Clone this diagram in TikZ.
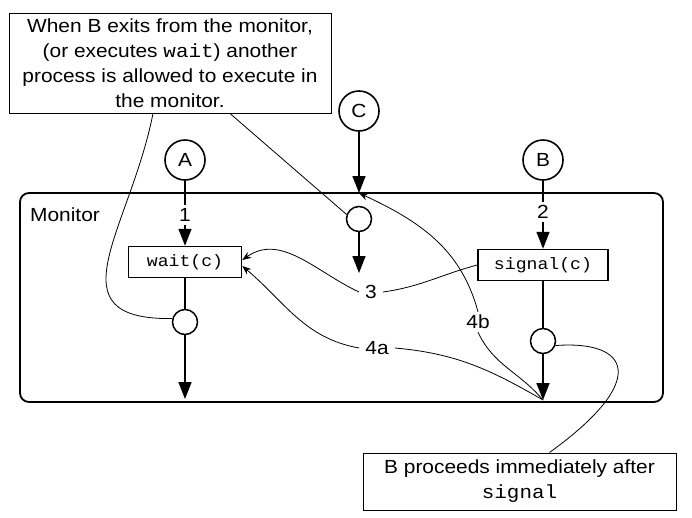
\documentclass[tikz,border=0pt]{standalone}
\usepackage{fontspec}
\setmainfont{Liberation Sans}[FakeStretch=1.1]
\setmonofont{Liberation Mono}[FakeStretch=1.1]
\usetikzlibrary{arrows.meta}
\begin{document}
\begin{tikzpicture}[x=1pt,y=1pt,
  every node/.style={font=\fontsize{19}{25}\selectfont},
  proc/.style={circle,draw,line width=1.6pt,minimum size=40pt,inner sep=0pt},
  joint/.style={circle,draw,line width=1.5pt,minimum size=25pt,inner sep=0pt},
  opbox/.style={draw,line width=1.5pt,minimum height=31pt,inner sep=0pt,font=\ttfamily\fontsize{16.5}{20}\selectfont},
  note/.style={draw,line width=1pt,align=center,inner sep=0pt},
  flow/.style={line width=1.6pt},
  bigarrow/.style={flow,-{Triangle[length=17pt,width=13pt]}},
  thinline/.style={line width=0.8pt},
  thinarrow/.style={thinline,-{Stealth[length=9pt,width=7pt]}},
  lab/.style={inner xsep=6pt,inner ysep=3pt}
]
\path[use as bounding box] (0,0) rectangle (692,-517);

% notes
\node[note,minimum width=322pt,minimum height=100pt] (note1) at (170,-63)
  {When B exits from the monitor,\\(or executes \texttt{wait}) another\\process is allowed to execute in\\the monitor.};
\node[note,minimum width=313pt,minimum height=57pt] (note2) at (519.5,-481.5)
  {B proceeds immediately after\\\texttt{signal}};

% monitor
\node[draw,rounded corners=9pt,line width=1.8pt,minimum width=643pt,minimum height=209pt] (mon) at (341.5,-297.5) {};
\node[anchor=west,inner sep=0pt] (monlab) at (30,-215) {Monitor};

% processes
\node[proc] (A) at (185,-160) {A};
\node[proc] (B) at (543,-160) {B};
\node[proc] (C) at (359,-111) {C};

\node[lab] (l1) at (185,-215) {1};
\node[lab] (l2) at (543,-212) {2};

\node[opbox,minimum width=113pt] (wait) at (185,-262) {wait(c)};
\node[opbox,minimum width=130pt] (signal) at (543,-265) {signal(c)};

\node[joint] (wa) at (185,-322) {};
\node[joint] (cc) at (359,-219) {};
\node[joint] (sb) at (543,-341) {};

\coordinate (ctop) at (359,-193);
\coordinate (cend) at (359,-273);
\coordinate (aend) at (185,-399);
\coordinate (bend) at (543,-400);

\node[lab] (l3) at (371,-292) {3};
\node[lab] (l4a) at (377,-348) {4a};
\node[lab] (l4b) at (478,-322) {4b};

% flows
\draw[flow] (A) -- (l1);
\draw[bigarrow] (l1) -- (wait);
\draw[flow] (wait) -- (wa);
\draw[bigarrow] (wa) -- (aend);
\draw[bigarrow] (C) -- (ctop);
\draw[bigarrow] (cc) -- (cend);
\draw[flow] (B) -- (l2);
\draw[bigarrow] (l2) -- (signal);
\draw[flow] (signal) -- (sb);
\draw[bigarrow] (sb) -- (bend);

% step connectors
\draw[thinline] (signal.west) to[out=195,in=8] (l3.east);
\draw[thinarrow] (l3.west) to[out=155,in=35] ([yshift=2pt]wait.east);
\draw[thinarrow] (l4a.west) to[out=170,in=-40] ([yshift=-4pt]wait.east);
\draw[thinline] (l4a.east) to[out=-5,in=150] (bend);
\draw[thinline] (l4b.south) to[out=-65,in=130] (bend);
\draw[thinarrow] (l4b.north) to[out=105,in=-25] (ctop);

% callout lines
\draw[thinline] ([xshift=-17pt]note1.south) .. controls (130,-230) and (50,-320) .. (wa.165);
\draw[thinline] ([xshift=60pt]note1.south) -- (cc.160);
\draw[thinline] ([xshift=30pt]note2.north) .. controls (650,-380) and (630,-340) .. (sb.-20);
\end{tikzpicture}
\end{document}
